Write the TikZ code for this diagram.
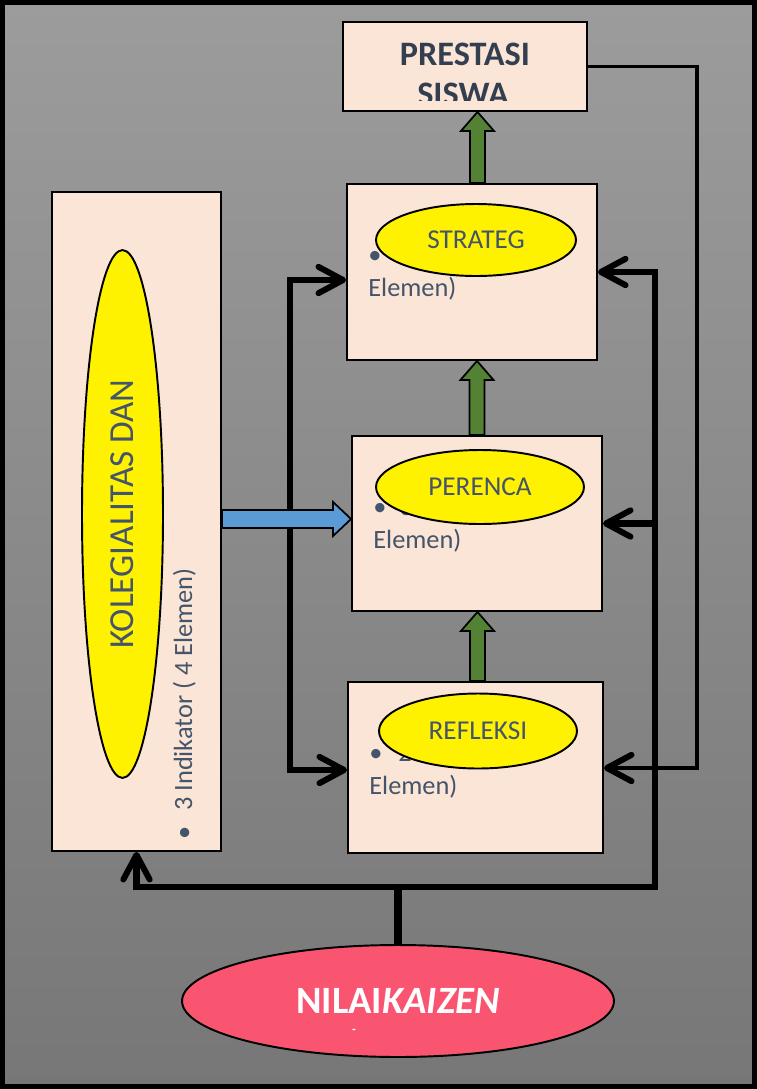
\documentclass[tikz,border=0pt]{standalone}
\usepackage{fontspec}
\setmainfont{Carlito}
\usepackage{tikz}
\usetikzlibrary{arrows.meta,calc,shapes.geometric}

\definecolor{boxfill}{HTML}{FBE5D6}
\definecolor{txtgray}{HTML}{44546A}
\definecolor{titlegray}{HTML}{333F50}
\definecolor{leafgreen}{HTML}{548235}
\definecolor{skyblue}{HTML}{5B9BD5}
\definecolor{kaizenred}{HTML}{F95470}
\definecolor{bgtop}{HTML}{9C9C9C}
\definecolor{bgbottom}{HTML}{777777}

% green block arrow pointing up from #1 to #2, shifted by #3
\newcommand{\greenup}[3]{%
  \coordinate (ga) at ($(#1.north)+(#3,0)$);
  \coordinate (gb) at (ga |- #2.south);
  \draw[greenblock] ($(ga)+(-7.5,0)$) -- ($(gb)+(-7.5,19)$) -- ($(gb)+(-16.5,19)$) -- (gb)
    -- ($(gb)+(16.5,19)$) -- ($(gb)+(7.5,19)$) -- ($(ga)+(7.5,0)$) -- cycle;
}

\begin{document}
\begin{tikzpicture}[x=0.02cm, y=-0.02cm,
    box/.style={draw, line width=1.1pt, fill=boxfill, inner sep=0pt},
    oval/.style={ellipse, draw, line width=1.1pt, fill=yellow, inner sep=0pt, text=txtgray, font=\fontsize{15.5}{18}\selectfont},
    bodytext/.style={text=txtgray, font=\fontsize{15}{19}\selectfont, inner sep=0pt, align=left},
    titletext/.style={text=titlegray, font=\bfseries\fontsize{19.5}{22}\selectfont, inner sep=0pt},
    link/.style={line width=3.5pt},
    thinlink/.style={line width=2pt},
    stem/.style={line width=4pt},
    greenblock/.style={draw, line width=1pt, fill=leafgreen},
    blueblock/.style={draw, line width=1pt, fill=skyblue},
    >={Straight Barb[length=14pt,width=15pt,line width=3.4pt,round]}]

    \useasboundingbox (0,0) rectangle (757,1089);
    \shade[top color=bgtop, bottom color=bgbottom] (0,0) rectangle (757,1089);
    \draw[line width=3pt] (2.6,2.6) rectangle (754.4,1086.4);

    \node (pres) [box, minimum width=4.88cm, minimum height=1.78cm] at (465,66.5) {};
    \begin{scope}
        \clip (343,22) rectangle (587,100);
        \node (presA) [titletext, anchor=base] at (465,65) {PRESTASI};
        \node (presB) [titletext, anchor=base] at (463,105) {SISWA};
    \end{scope}

    \node (strat) [box, minimum width=5cm, minimum height=3.52cm] at (472,272) {};
    \node (stratTxt) [bodytext, anchor=base west, text width=4.6cm] at (368,263) {\textbullet\\Elemen)};
    \node (stratOval) [oval, minimum width=4cm, minimum height=1.44cm] at (476,240) {STRATEG};

    \node (pere) [box, minimum width=5cm, minimum height=3.5cm] at (477,523.5) {};
    \node (pereTxt) [bodytext, anchor=base west, text width=4.6cm] at (373,515) {\textbullet\hspace{.5em}3\\Elemen)};
    \node (pereOval) [oval, minimum width=4.16cm, minimum height=1.48cm] at (480,487) {PERENCA};

    \node (refl) [box, minimum width=5.1cm, minimum height=3.42cm] at (475.5,767.5) {};
    \node (reflTxt) [bodytext, anchor=base west, text width=4.6cm] at (369,761) {\textbullet\hspace{.6em}2\\Elemen)};
    \node (reflOval) [oval, minimum width=3.96cm, minimum height=1.5cm] at (478,731) {REFLEKSI};

    \node (kol) [box, minimum width=3.38cm, minimum height=13.18cm] at (136.5,521.5) {};
    \node (kolTxt) [bodytext, rotate=90, anchor=base west] at (192,840) {\textbullet\hspace{.6em}3 Indikator ( 4 Elemen)};
    \node (kolOval) [oval, rotate=90, minimum width=10.56cm, minimum height=1.62cm, font=\fontsize{20}{24}\selectfont] at (122.5,514) {KOLEGIALITAS DAN};

    \node (nilai) [ellipse, draw, line width=1.1pt, fill=kaizenred, minimum width=8.64cm, minimum height=2.24cm, inner sep=0pt,
        text=white, font=\bfseries\fontsize{22}{26}\selectfont] at (398,1001) {NILAI\textit{KAIZEN}};
    \node (nilaiDash) [text=white, font=\bfseries\fontsize{7}{8}\selectfont, inner sep=0pt] at (354,1031) {-};

    % feedback lines
    \coordinate (lt) at (290,280);
    \coordinate (lb) at (290,770);
    \draw[link, <->] (lt -| strat.west) -- (lt) -- (lb) -- (lb -| refl.west);

    \coordinate (rt) at (697,768);
    \draw[thinlink, ->] (pres.east) -| (rt) -- (rt -| refl.east);

    \coordinate (rj) at (655,887);
    \draw[link, <->] (kol.south) -- (kol.south |- rj) -- (rj) -- (rj |- strat.east) -- (strat.east);
    \draw[link, ->] (rj |- pere.east) -- (pere.east);
    \draw[stem] (nilai.north) -- (nilai.north |- rj);

    % block arrows
    \greenup{strat}{pres}{5.5}
    \greenup{pere}{strat}{0}
    \greenup{refl}{pere}{2}

    \coordinate (ba) at ($(kol.east)+(0,-2.5)$);
    \coordinate (bb) at (pere.west |- ba);
    \draw[blueblock] ($(ba)+(0,-9)$) -- ($(bb)+(-18,-9)$) -- ($(bb)+(-18,-17)$) -- (bb)
        -- ($(bb)+(-18,17)$) -- ($(bb)+(-18,9)$) -- ($(ba)+(0,9)$) -- cycle;
\end{tikzpicture}
\end{document}
